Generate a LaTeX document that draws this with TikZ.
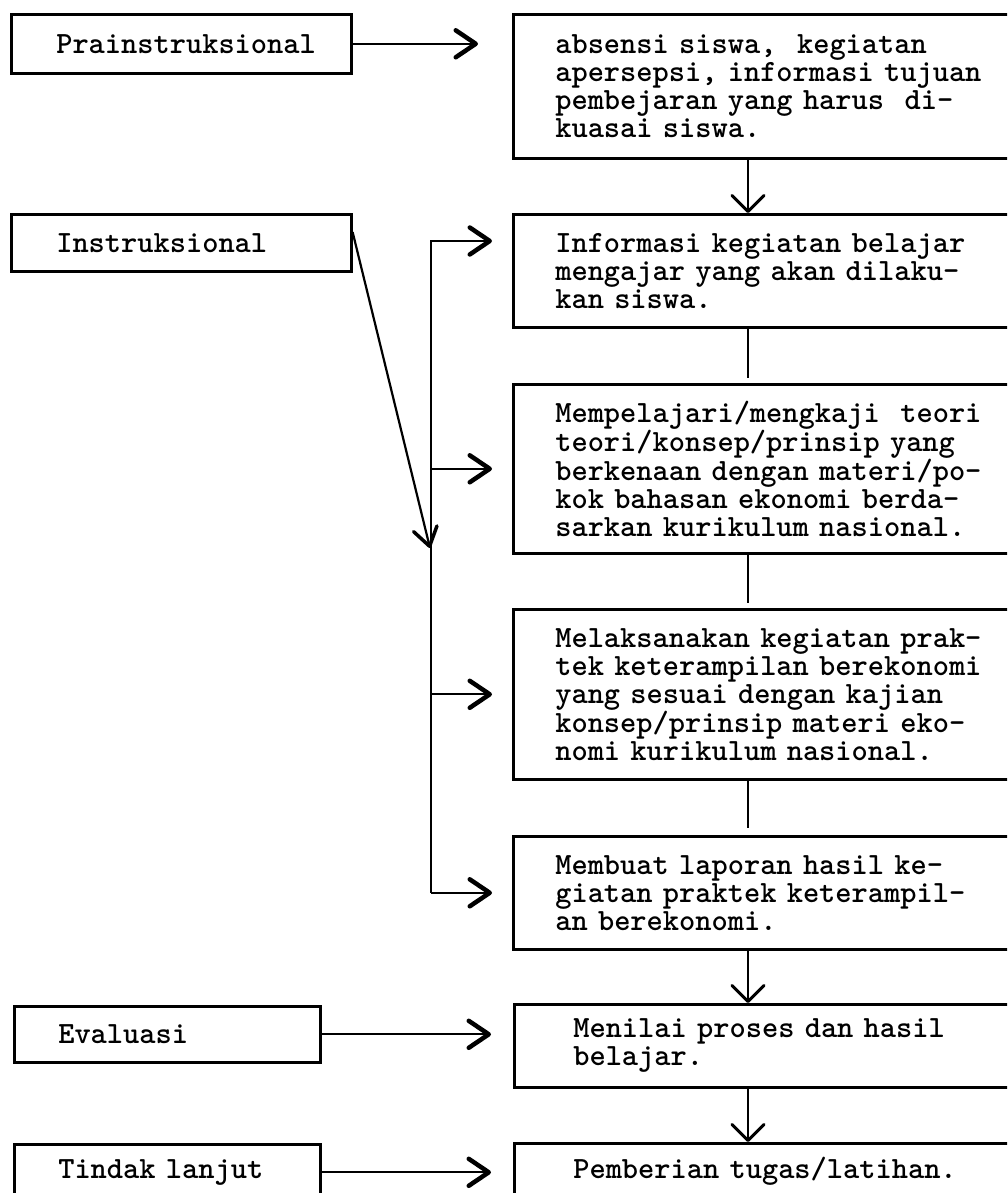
\documentclass[tikz,border=0pt]{standalone}
\usetikzlibrary{arrows.meta,calc}
\frenchspacing
\begin{document}
\begin{tikzpicture}[x=1pt,y=-1pt,
  box/.style={draw, line width=2.6pt, anchor=north west, align=left,
    font=\ttfamily\bfseries\fontsize{30.9}{28}\selectfont, inner ysep=0pt},
  lbox/.style={box, inner xsep=45pt, text width=250pt},
  lboxs/.style={box, inner xsep=44pt, text width=218pt},
  rbox/.style={box, inner xsep=42pt, text width=480pt},
  ln/.style={line width=2.2pt},
  harr/.style={ln, -{Straight Barb[length=20pt,width=27pt,line width=4.5pt,round]}},
  varr/.style={ln, -{Straight Barb[length=16pt,width=32pt,line width=3pt,round]}},
  darr/.style={ln, -{Straight Barb[length=18pt,width=24pt,line width=3.5pt,round]}}]
\useasboundingbox (0,0) rectangle (1007,1193);
\clip (0,0) rectangle (1007,1193);

% left column
\node[lbox, minimum height=59pt] (pra) at (10,13) {Prainstruksional};
\node[lbox, minimum height=57pt] (ins) at (10,213) {Instruksional};
\node[lboxs, minimum height=56pt] (eva) at (13,1005) {Evaluasi};
\node[lboxs, minimum height=56pt] (tin) at (13,1143) {Tindak lanjut};

% right column
\node[rbox, minimum height=144pt] (A) at (512,13)
  {absensi siswa,\ \ kegiatan\\apersepsi, informasi tujuan\\pembejaran yang harus\ \ di-\\kuasai siswa.};
\node[rbox, minimum height=113pt] (B) at (512,213)
  {Informasi kegiatan belajar\\mengajar yang akan dilaku-\\kan siswa.};
\node[rbox, minimum height=169pt] (C) at (512,383)
  {Mempelajari/mengkaji\ \ teori\\teori/konsep/prinsip yang\\berkenaan dengan materi/po-\\kok bahasan ekonomi berda-\\sarkan kurikulum nasional.};
\node[rbox, minimum height=170pt] (D) at (512,608)
  {Melaksanakan kegiatan prak-\\tek keterampilan berekonomi\\yang sesuai dengan kajian\\konsep/prinsip materi eko-\\nomi kurikulum nasional.};
\node[rbox, minimum height=113pt] (E) at (512,835)
  {Membuat laporan hasil ke-\\giatan praktek keterampil-\\an berekonomi.};
\node[rbox, inner xsep=59pt, minimum height=83pt] (F) at (513,1003)
  {Menilai proses dan hasil\\belajar.};
\node[rbox, inner xsep=59pt, minimum height=56pt] (G) at (513,1142)
  {Pemberian tugas/latihan.};

% vertical chain
\coordinate (col) at (748,0);
\draw[varr] (A.south -| col) -- (B.north -| col);
\draw[ln] (B.south -| col) -- ($(C.north -| col)+(0,-5)$);
\draw[ln] (C.south -| col) -- ($(D.north -| col)+(0,-5)$);
\draw[ln] (D.south -| col) -- ($(E.north -| col)+(0,-7)$);
\draw[varr] (E.south -| col) -- (F.north -| col);
\draw[varr] (F.south -| col) -- (G.north -| col);

% horizontal arrows from left boxes
\draw[harr] (pra.east) -- ($(A.west |- pra.east)+(-34,0)$);
\draw[harr] (eva.east) -- ($(F.west |- eva.east)+(-22,0)$);
\draw[harr] (tin.east) -- ($(G.west |- tin.east)+(-22,0)$);

% trunk
\coordinate (tTop) at (431,241);
\coordinate (tBot) at (tTop |- E.west);
\draw[harr] (tBot) -- (tTop) -- ($(B.west |- tTop)+(-20,0)$);
\draw[harr] (tTop |- C.west) -- ($(C.west)+(-20,0)$);
\draw[harr] (tTop |- D.west) -- ($(D.west)+(-20,0)$);
\draw[harr] (tBot) -- ($(E.west)+(-20,0)$);

% diagonal from Instruksional
\coordinate (dTip) at (430,548);
\draw[darr] ($(ins.north east)+(0,19)$) -- (dTip);
\end{tikzpicture}
\end{document}
